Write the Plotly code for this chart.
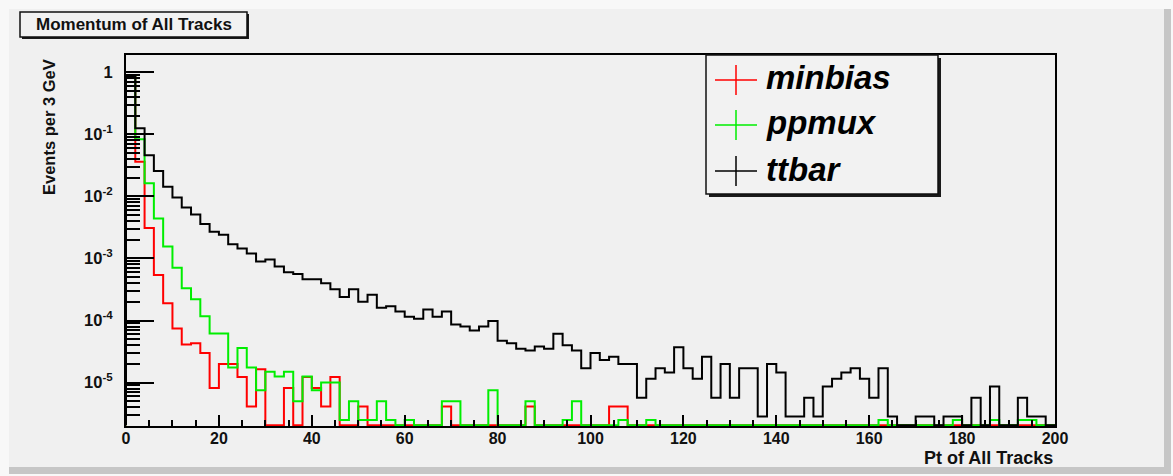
import numpy as np
import plotly.graph_objects as go

# ---------------- data (2 GeV bins, 0-200 GeV) ----------------
bin_width = 2.0
x_min, x_max = 0.0, 200.0

minbias = [
    0.87, 0.036, 0.0031, 5.4e-4, 1.9e-4, 7.4e-5, 4.1e-5, 4.3e-5, 3.0e-5, 8.2e-6,
    2.0e-5, 2.0e-5, 1.23e-5, 4.1e-6, 1.64e-5, 0, 0, 8.2e-6, 0, 1.23e-5,
    8.2e-6, 4.1e-6, 1.23e-5, 0, 0, 4.1e-6, 0, 0, 0, 0,
    0, 0, 0, 0, 4.1e-6, 0, 0, 0, 0, 0,
    0, 0, 0, 4.1e-6, 0, 0, 0, 0, 0, 0,
    0, 0, 4.1e-6, 4.1e-6, 0, 0, 0, 0, 0, 0,
    0, 0, 0, 0, 0, 0, 0, 0, 0, 0,
    0, 0, 0, 0, 0, 0, 0, 0, 0, 0,
    0, 0, 0, 0, 0, 0, 0, 0, 0, 0,
    0, 0, 0, 0, 0, 0, 0, 0, 0, 0,
]

ppmux = [
    0.87, 0.083, 0.0162, 0.0044, 0.00155, 7.1e-4, 3.3e-4, 2.2e-4, 1.17e-4, 6.2e-5,
    6.2e-5, 1.75e-5, 3.6e-5, 1.75e-5, 7.5e-6, 1.5e-5, 1.25e-5, 1.5e-5, 5e-6, 1.25e-5,
    7.5e-6, 1e-5, 1e-5, 2.5e-6, 5e-6, 2.5e-6, 2.5e-6, 5e-6, 2.5e-6, 0,
    2.5e-6, 0, 0, 0, 5e-6, 5e-6, 0, 0, 0, 7.5e-6,
    0, 0, 0, 5e-6, 0, 0, 0, 2.5e-6, 5e-6, 0,
    0, 0, 0, 2.5e-6, 0, 0, 2.5e-6, 0, 0, 0,
    0, 0, 0, 0, 0, 0, 0, 0, 0, 0,
    0, 0, 0, 0, 0, 0, 0, 0, 0, 0,
    0, 2.5e-6, 0, 0, 0, 0, 0, 0, 0, 2.5e-6,
    0, 0, 0, 2.5e-6, 0, 0, 2.5e-6, 2.5e-6, 0, 0,
]

ttbar = [
    0.85, 0.125, 0.046, 0.0256, 0.0143, 0.0096, 0.0066, 0.0051, 0.0036, 0.0027,
    0.0024, 0.0017, 0.00145, 0.0012, 8.9e-4, 9.6e-4, 7.4e-4, 6.0e-4, 5.6e-4, 4.6e-4,
    4.6e-4, 4.0e-4, 3.2e-4, 2.4e-4, 3.2e-4, 2.0e-4, 2.6e-4, 1.6e-4, 1.7e-4, 1.4e-4,
    1.15e-4, 1.07e-4, 1.5e-4, 1.15e-4, 1.4e-4, 8.6e-5, 8.0e-5, 6.9e-5, 8.0e-5, 9.8e-5,
    4.7e-5, 4.3e-5, 3.5e-5, 3.3e-5, 3.8e-5, 3.5e-5, 6.1e-5, 4.0e-5, 3.3e-5, 1.7e-5,
    3.0e-5, 2.3e-5, 2.6e-5, 2.0e-5, 2.0e-5, 5.7e-6, 1.15e-5, 1.7e-5, 1.45e-5, 3.7e-5,
    1.7e-5, 1.15e-5, 2.6e-5, 5.7e-6, 2.0e-5, 5.7e-6, 1.7e-5, 1.7e-5, 2.85e-6, 2.0e-5,
    1.45e-5, 2.85e-6, 2.85e-6, 5.7e-6, 2.85e-6, 8.6e-6, 1.15e-5, 1.45e-5, 1.7e-5, 1.15e-5,
    5.7e-6, 1.7e-5, 2.85e-6, 0, 0, 2.85e-6, 2.85e-6, 0, 2.85e-6, 2.85e-6,
    0, 5.7e-6, 0, 8.6e-6, 0, 0, 5.7e-6, 2.85e-6, 2.85e-6, 0,
]

series_names = ["minbias", "ppmux", "ttbar"]
series_colors = ["#ff0000", "#00ee00", "#000000"]

x_tick_values = [0, 20, 40, 60, 80, 100, 120, 140, 160, 180, 200]
y_tick_exponents = [-5, -4, -3, -2, -1, 0]
y_tick_labels = ["10<sup>-5</sup>", "10<sup>-4</sup>", "10<sup>-3</sup>",
                 "10<sup>-2</sup>", "10<sup>-1</sup>", "1"]

title_text = "Momentum of All Tracks"
x_title = "Pt of All Tracks"
y_title = "Events per 3 GeV"

# ---------------- layout geometry (pixels) ----------------
W, H = 1173, 476
PL, PR, PT, PB = 126, 1055, 55, 426          # plot frame in pixels
Y_LOG_MIN, Y_LOG_MAX = -5.70, 0.278
FLOOR = 10 ** (Y_LOG_MIN + 0.012)            # where empty bins are drawn (frame bottom)

def px(xp):
    return (xp - PL) / (PR - PL)

def py(yp):
    return (PB - yp) / (PB - PT)

FONT = "Liberation Sans, Arial, sans-serif"

fig = go.Figure()

edges = np.arange(len(ttbar) + 1) * bin_width + x_min

def step_trace(vals, name, color):
    v = np.asarray(vals, dtype=float)
    v = np.where(v > 0, v, FLOOR)
    xs = np.concatenate([[edges[0]], edges[:-1], [edges[-1]], [edges[-1]]])
    ys = np.concatenate([[FLOOR], v, [v[-1]], [FLOOR]])
    return go.Scatter(x=xs, y=ys, mode="lines", line_shape="hv",
                      line=dict(color=color, width=2), name=name,
                      showlegend=False, hoverinfo="skip")

data_by_name = {"minbias": minbias, "ppmux": ppmux, "ttbar": ttbar}
for name, color in zip(series_names, series_colors):
    fig.add_trace(step_trace(data_by_name[name], name, color))

shapes = []
# canvas bevel
shapes.append(dict(type="rect", xref="paper", yref="paper",
                   x0=px(9), x1=px(1166), y0=py(9), y1=py(468),
                   fillcolor="#f0f0f0", line=dict(width=0), layer="below"))
shapes.append(dict(type="rect", xref="paper", yref="paper",
                   x0=px(9), x1=px(1171), y0=py(467), y1=py(474),
                   fillcolor="#c6c6c6", line=dict(width=0), layer="below"))
shapes.append(dict(type="rect", xref="paper", yref="paper",
                   x0=px(1164), x1=px(1171), y0=py(9), y1=py(474),
                   fillcolor="#c6c6c6", line=dict(width=0), layer="below"))

# title box with shadow
shapes.append(dict(type="rect", xref="paper", yref="paper",
                   x0=px(22), x1=px(249), y0=py(14), y1=py(39),
                   fillcolor="#1a1a1a", line=dict(width=0)))
shapes.append(dict(type="rect", xref="paper", yref="paper",
                   x0=px(20), x1=px(247), y0=py(12), y1=py(37),
                   fillcolor="#f2f2f2", line=dict(color="#111111", width=1.5)))

# legend box with shadow
shapes.append(dict(type="rect", xref="paper", yref="paper",
                   x0=px(709), x1=px(941), y0=py(58), y1=py(197),
                   fillcolor="#1a1a1a", line=dict(width=0)))
shapes.append(dict(type="rect", xref="paper", yref="paper",
                   x0=px(706), x1=px(938), y0=py(55), y1=py(194),
                   fillcolor="#f2f2f2", line=dict(color="#111111", width=1.5)))

annotations = []
legend_rows_y = [80, 125, 171]
for name, color, yc in zip(series_names, series_colors, legend_rows_y):
    shapes.append(dict(type="line", xref="paper", yref="paper",
                       x0=px(715), x1=px(757), y0=py(yc), y1=py(yc),
                       line=dict(color=color, width=1.5)))
    shapes.append(dict(type="line", xref="paper", yref="paper",
                       x0=px(736), x1=px(736), y0=py(yc - 15), y1=py(yc + 15),
                       line=dict(color=color, width=1.5)))
    annotations.append(dict(text=name, xref="paper", yref="paper",
                            x=px(764), y=py(yc - 2), xanchor="left", yanchor="middle",
                            showarrow=False,
                            font=dict(family=FONT, size=33, color="#000000",
                                      weight="bold", style="italic")))

annotations.append(dict(text=title_text, xref="paper", yref="paper",
                        x=px(134), y=py(24.5), xanchor="center", yanchor="middle",
                        showarrow=False,
                        font=dict(family=FONT, size=17, color="#111111", weight="bold")))
annotations.append(dict(text=x_title, xref="paper", yref="paper",
                        x=px(1055), y=py(458), xanchor="right", yanchor="middle",
                        showarrow=False,
                        font=dict(family=FONT, size=18, color="#111111", weight="bold")))
annotations.append(dict(text=y_title, xref="paper", yref="paper",
                        x=px(49), y=py(57), xanchor="center", yanchor="top",
                        textangle=-90, showarrow=False,
                        font=dict(family=FONT, size=16.5, color="#111111", weight="bold")))

y_minor = [k * 10.0 ** d for d in range(-6, 1) for k in range(2, 10)
           if Y_LOG_MIN < np.log10(k * 10.0 ** d) < Y_LOG_MAX]

fig.update_layout(
    width=W, height=H,
    margin=dict(l=PL, r=W - PR, t=PT, b=H - PB, pad=0),
    paper_bgcolor="#f8f8f8",
    plot_bgcolor="#f1f1f1",
    showlegend=False,
    shapes=shapes,
    annotations=annotations,
    xaxis=dict(
        range=[x_min, x_max], showgrid=False, zeroline=False,
        showline=True, linecolor="#000000", linewidth=2, mirror=True,
        ticks="inside", ticklen=11, tickwidth=1.5, tickcolor="#000000",
        tickmode="array", tickvals=x_tick_values,
        ticktext=[str(v) for v in x_tick_values],
        tickfont=dict(family=FONT, size=16, color="#111111", weight="bold"),
        minor=dict(ticks="inside", ticklen=6, tickwidth=1.5, tickcolor="#000000",
                   dtick=5, tick0=0, showgrid=False),
        ticklabelstandoff=-3,
    ),
    yaxis=dict(
        type="log", range=[Y_LOG_MIN, Y_LOG_MAX], showgrid=False, zeroline=False,
        showline=True, linecolor="#000000", linewidth=2, mirror=True,
        ticks="inside", ticklen=28, tickwidth=1.5, tickcolor="#000000",
        tickmode="array", tickvals=[10.0 ** e for e in y_tick_exponents],
        ticktext=y_tick_labels,
        tickfont=dict(family=FONT, size=16.5, color="#111111", weight="bold"),
        minor=dict(ticks="inside", ticklen=14, tickwidth=1.5, tickcolor="#000000",
                   tickmode="array", tickvals=y_minor, showgrid=False),
        ticklabelstandoff=8,
    ),
)

fig.write_html("out.html")
